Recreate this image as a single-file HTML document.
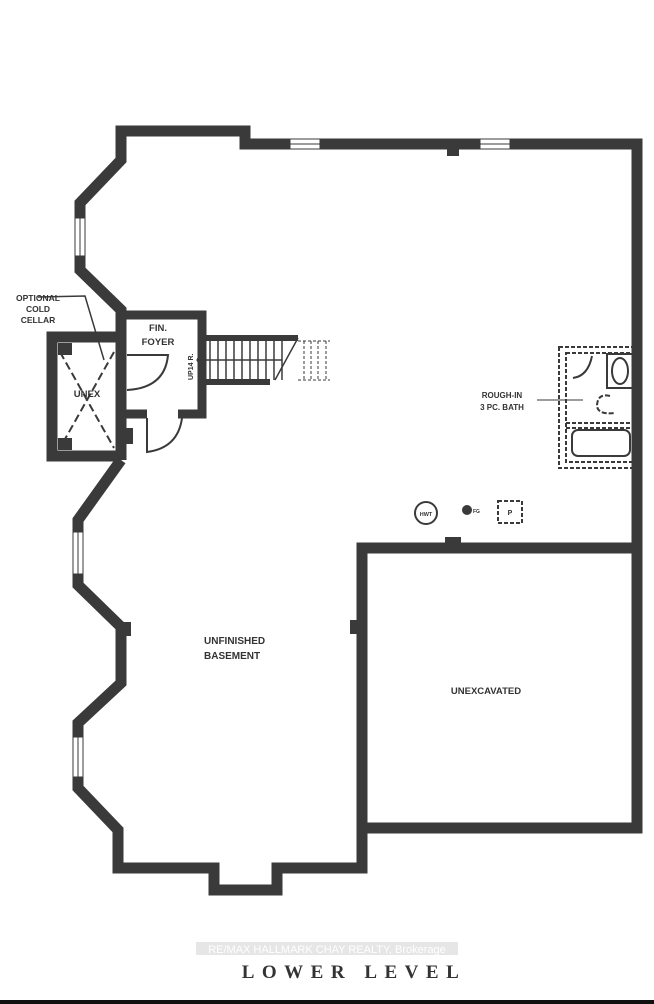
<!DOCTYPE html>
<html><head><style>
html,body{margin:0;padding:0;background:#fff;}
body{width:654px;height:1004px;overflow:hidden;position:relative;}
svg{position:absolute;left:0;top:0;}
</style></head><body>
<svg width="654" height="1004" viewBox="0 0 654 1004" xmlns="http://www.w3.org/2000/svg">
<g fill="none" stroke="#3a3a3a" stroke-width="11" stroke-linejoin="miter">
<polyline points="121,460 121,310 80,270 80,203 121,160 121,131 245,131 245,144 637,144 637,828 362,828 362,548 637,548"/>
<polyline points="121,460 78,520 78,585 121,627 121,683 78,723 78,788 118,830 118,868 214,868 214,890 277,890 277,868 362,868 362,548"/>
<polyline points="121,337 52,337 52,456 121,456"/>
<polyline points="121,315 202,315 202,414 178,414" stroke-width="9"/>
<line x1="121" y1="414" x2="147" y2="414" stroke-width="9"/>
<line x1="202" y1="338" x2="298" y2="338" stroke-width="6"/>
<line x1="202" y1="382" x2="270" y2="382" stroke-width="6"/>
</g>
<g fill="#fff" stroke="#3a3a3a" stroke-width="1">
<rect x="290" y="139" width="30" height="10"/>
<rect x="480" y="139" width="30" height="10"/>
<rect x="75" y="218" width="10" height="38"/>
<rect x="73" y="532" width="10" height="42"/>
<rect x="73" y="737" width="10" height="40"/>
</g>
<g stroke="#3a3a3a" stroke-width="1">
<line x1="290" y1="144" x2="320" y2="144"/><line x1="480" y1="144" x2="510" y2="144"/>
<line x1="80" y1="218" x2="80" y2="256"/><line x1="78" y1="532" x2="78" y2="574"/><line x1="78" y1="737" x2="78" y2="777"/>
</g>
<g fill="#3a3a3a">
<rect x="447" y="144" width="12" height="12"/>
<rect x="445" y="537" width="16" height="8"/>
<rect x="121" y="622" width="10" height="14"/>
<rect x="350" y="620" width="8" height="14"/>
<rect x="121" y="428" width="12" height="16"/>
<rect x="58" y="343" width="14" height="12"/>
<rect x="58" y="438" width="14" height="12"/>
</g>
<g stroke="#3a3a3a" stroke-width="2" stroke-dasharray="8,4">
<line x1="60" y1="352" x2="114" y2="448"/>
<line x1="114" y1="352" x2="60" y2="448"/>
</g>
<path d="M38,297 L85,296 Q98,340 104,360" fill="none" stroke="#3a3a3a" stroke-width="1.5"/>
<g fill="none" stroke="#3a3a3a" stroke-width="2">
<path d="M127,355 L168,355 Q165,388 127,390"/>
<path d="M147,418 L147,452 Q178,448 182,418"/>
</g>
<g stroke="#3a3a3a" stroke-width="1.5">
<line x1="210" y1="340" x2="210" y2="380"/><line x1="218" y1="340" x2="218" y2="380"/>
<line x1="226" y1="340" x2="226" y2="380"/><line x1="234" y1="340" x2="234" y2="380"/>
<line x1="242" y1="340" x2="242" y2="380"/><line x1="250" y1="340" x2="250" y2="380"/>
<line x1="258" y1="340" x2="258" y2="380"/><line x1="266" y1="340" x2="266" y2="380"/>
<line x1="274" y1="340" x2="274" y2="380"/><line x1="282" y1="340" x2="282" y2="380"/>
<line x1="202" y1="360" x2="282" y2="360"/>
<line x1="275" y1="380" x2="298" y2="338"/>
</g>
<g stroke="#3a3a3a" stroke-width="1" stroke-dasharray="3,2">
<line x1="298" y1="341" x2="330" y2="341"/><line x1="298" y1="380" x2="330" y2="380"/>
<line x1="304" y1="341" x2="304" y2="380"/><line x1="311" y1="341" x2="311" y2="380"/>
<line x1="318" y1="341" x2="318" y2="380"/><line x1="326" y1="341" x2="326" y2="380"/>
</g>
<circle cx="199" cy="360" r="2.5" fill="#3a3a3a"/>
<g fill="none" stroke="#3a3a3a" stroke-width="2" stroke-dasharray="4,2">
<rect x="559" y="347" width="76" height="121"/>
<rect x="566" y="353" width="69" height="109"/>
<line x1="566" y1="428" x2="635" y2="428"/>
<line x1="566" y1="423" x2="635" y2="423"/>
</g>
<g fill="none" stroke="#3a3a3a" stroke-width="2">
<rect x="572" y="430" width="58" height="26" rx="6"/>
<rect x="607" y="354" width="26" height="34"/>
<ellipse cx="620" cy="371" rx="8" ry="13"/>
<path d="M573,378 Q588,376 592,356"/>
<path d="M610,396 Q598,393 597,405 Q597,415 615,413" stroke-dasharray="5,2"/>
<line x1="537" y1="400" x2="583" y2="400" stroke-width="1"/>
<circle cx="426" cy="513" r="11"/>
<rect x="498" y="501" width="24" height="22" stroke-dasharray="4,2"/>
</g>
<circle cx="467" cy="510" r="5" fill="#3a3a3a"/>
<g font-family="Liberation Sans, sans-serif" font-weight="bold" fill="#333">
<text x="38" y="301" font-size="8.5" text-anchor="middle">OPTIONAL</text>
<text x="38" y="312" font-size="8.5" text-anchor="middle">COLD</text>
<text x="38" y="323" font-size="8.5" text-anchor="middle">CELLAR</text>
<text x="158" y="331" font-size="9.5" text-anchor="middle">FIN.</text>
<text x="158" y="345" font-size="9.5" text-anchor="middle">FOYER</text>
<text x="87" y="397" font-size="9.5" text-anchor="middle">UNEX</text>
<text transform="translate(193,380) rotate(-90)" font-size="7">UP14 R.</text>
<text x="502" y="398" font-size="8" text-anchor="middle">ROUGH-IN</text>
<text x="502" y="410" font-size="8" text-anchor="middle">3 PC. BATH</text>
<text x="426" y="516" font-size="5.5" text-anchor="middle">HWT</text>
<text x="473" y="513" font-size="5">FG</text>
<text x="510" y="515" font-size="7" text-anchor="middle">P</text>
<text x="204" y="644" font-size="10">UNFINISHED</text>
<text x="204" y="659" font-size="10">BASEMENT</text>
<text x="486" y="694" font-size="9.5" text-anchor="middle">UNEXCAVATED</text>
</g>
<rect x="196" y="942" width="262" height="13" fill="#e6e6e6"/>
<text x="327" y="953" font-family="Liberation Sans, sans-serif" font-size="11" fill="#fff" text-anchor="middle">RE/MAX HALLMARK CHAY REALTY, Brokerage</text>
<text x="354" y="978" font-family="Liberation Serif, serif" font-weight="bold" font-size="19" fill="#333" text-anchor="middle" letter-spacing="7.5">LOWER LEVEL</text>
<rect x="0" y="1000" width="654" height="4" fill="#111"/>
</svg>
</body></html>
